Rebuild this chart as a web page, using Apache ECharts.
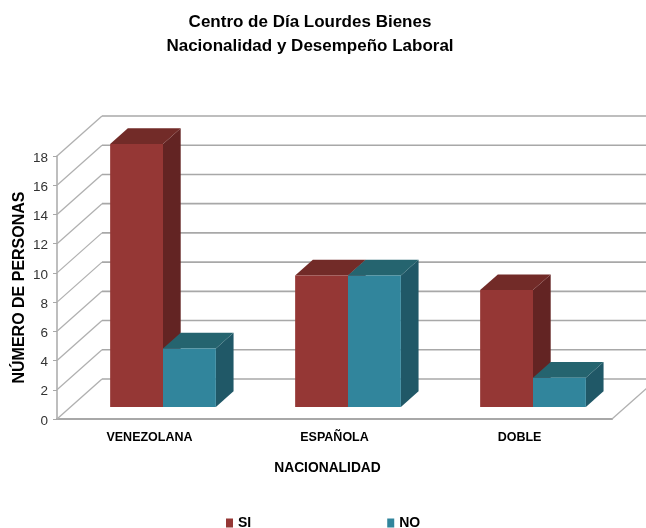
<!DOCTYPE html>
<html><head><meta charset="utf-8">
<style>html,body{margin:0;padding:0;background:#fff;overflow:hidden}#c{width:646px;height:528px}</style>
<script src="https://cdn.jsdelivr.net/npm/echarts@6/dist/echarts.min.js"></script>
</head><body><div id="c"></div>
<script>
const categories = ['VENEZOLANA', 'ESPAÑOLA', 'DOBLE'];
const siValues = [18, 9, 8];
const noValues = [4, 9, 2];
const yTicks = [0, 2, 4, 6, 8, 10, 12, 14, 16, 18];
const DX = 45, DY = 40;
const BAR_START = 0.3, BAR_DX = 17.7, BAR_DY = 15.7;
const chart = echarts.init(document.getElementById('c'), null, {renderer: 'canvas'});

function wall(params, api) {
  const v = api.value(1);
  const band = api.size([1, 0])[0];
  const left = api.coord([0, v]);
  const x0 = left[0] - band / 2, y0 = left[1];
  const x1 = api.coord([categories.length - 1, v])[0] + band / 2;
  const children = [
    {type: 'line', shape: {x1: x0, y1: y0, x2: x0 + DX, y2: y0 - DY}, style: {stroke: '#b0b0b0', lineWidth: 1.3}},
    {type: 'line', shape: {x1: x0 + DX, y1: y0 - DY, x2: x1 + DX, y2: y0 - DY}, style: {stroke: '#a8a8a8', lineWidth: 1.6}}
  ];
  if (v === 0) children.push({type: 'line', shape: {x1: x1, y1: y0, x2: x1 + DX, y2: y0 - DY}, style: {stroke: '#b0b0b0', lineWidth: 1.3}});
  return {type: 'group', silent: true, children};
}
function bar3d(colors, idx) {
  return function (params, api) {
    const c = api.value(0), v = api.value(1);
    const band = api.size([1, 0])[0];
    const w = band / 3.5;
    const base = api.coord([c, 0]), top = api.coord([c, v]);
    const ox = DX * BAR_START, oy = DY * BAR_START;
    const xl = base[0] + ox - w + idx * w, xr = xl + w;
    const yb = base[1] - oy, yt = top[1] - oy;
    return {type: 'group', children: [
      {type: 'polygon', shape: {points: [[xr, yb], [xr + BAR_DX, yb - BAR_DY], [xr + BAR_DX, yt - BAR_DY], [xr, yt]]}, style: {fill: colors[2]}},
      {type: 'polygon', shape: {points: [[xl, yt], [xl + BAR_DX, yt - BAR_DY], [xr + BAR_DX, yt - BAR_DY], [xr, yt]]}, style: {fill: colors[1]}},
      {type: 'rect', shape: {x: xl, y: yt, width: w, height: yb - yt}, style: {fill: colors[0]}}
    ]};
  };
}
const siColors = ['#953735', '#722b28', '#632423'];
const noColors = ['#31859c', '#25646f', '#205867'];
const font = '"Liberation Sans", Arial, sans-serif';
chart.setOption({
  animation: false,
  backgroundColor: '#fff',
  title: {
    text: 'Centro de Día Lourdes Bienes\nNacionalidad y Desempeño Laboral',
    left: 305, top: 5, textAlign: 'center',
    textStyle: {fontFamily: font, fontWeight: 'bold', fontSize: 17, lineHeight: 24, color: '#000'}
  },
  legend: {
    data: ['SI', 'NO'], left: 226, top: 516, icon: 'rect', itemWidth: 7, itemHeight: 9, itemGap: 136,
    selectedMode: false, padding: 0,
    textStyle: {fontFamily: font, fontWeight: 'bold', fontSize: 14, color: '#000'}
  },
  grid: {left: 57, right: 34, top: 156, bottom: 109, outerBoundsMode: 'none'},
  xAxis: {
    type: 'category', data: categories,
    name: 'NACIONALIDAD', nameLocation: 'middle', nameGap: 42,
    nameTextStyle: {fontFamily: font, fontWeight: 'bold', fontSize: 13.8, color: '#000', padding: [0, 14, 0, 0]},
    axisLine: {lineStyle: {color: '#a8a8a8', width: 2}},
    axisTick: {length: 4, lineStyle: {color: '#a8a8a8'}},
    axisLabel: {fontFamily: font, fontWeight: 'bold', fontSize: 12.5, color: '#000', margin: 12},
    splitLine: {show: false}
  },
  yAxis: {
    type: 'value', min: 0, max: 18, interval: 2,
    name: 'NÚMERO DE PERSONAS', nameLocation: 'middle', nameGap: 29, nameMoveOverlap: false,
    nameTextStyle: {fontFamily: font, fontWeight: 'bold', fontSize: 16, color: '#000'},
    axisLine: {show: true, lineStyle: {color: '#a8a8a8', width: 1.5}},
    axisTick: {show: true, length: 4, lineStyle: {color: '#a8a8a8'}},
    axisLabel: {fontFamily: font, fontSize: 13.5, color: '#333', margin: 9, verticalAlign: 'top', padding: [0, 0, 0, 0], lineHeight: 4},
    splitLine: {show: false}
  },
  series: [
    {type: 'custom', name: 'walls', renderItem: wall, data: yTicks.map(v => [0, v]), encode: {x: 0, y: 1}, z: 1, silent: true, clip: false},
    {type: 'custom', name: 'SI', renderItem: bar3d(siColors, 0), itemStyle: {color: siColors[0]}, data: siValues.map((v, i) => [i, v]), encode: {x: 0, y: 1}, z: 2, clip: false},
    {type: 'custom', name: 'NO', renderItem: bar3d(noColors, 1), itemStyle: {color: noColors[0]}, data: noValues.map((v, i) => [i, v]), encode: {x: 0, y: 1}, z: 3, clip: false}
  ]
});
</script></body></html>
